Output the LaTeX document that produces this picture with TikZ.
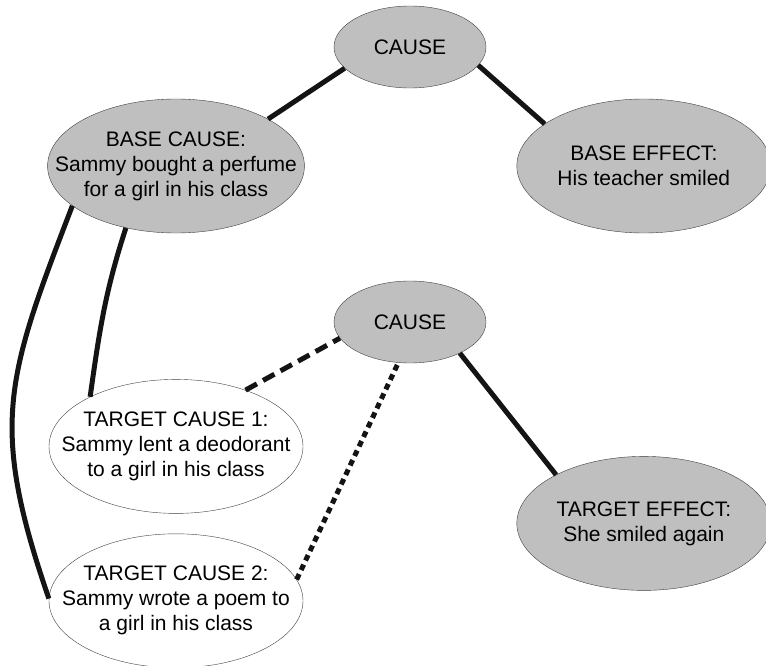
\documentclass[tikz,border=0pt]{standalone}
\usepackage{fontspec}
\setmainfont{Liberation Sans}
\usepackage{xcolor}
\definecolor{cFill}{HTML}{BFBFBF}
\definecolor{cEdge}{HTML}{404040}
\definecolor{cLink}{HTML}{141414}
\usepackage{tikz}
\usetikzlibrary{positioning,shapes.geometric}
\tikzset{
  node-event/.style={draw=cEdge,ellipse,fill=cFill,inner xsep=-30pt,
    minimum width=254pt,minimum height=134pt,align=center,
    font=\fontsize{21}{25}\selectfont},
  node-cause/.style={draw=cEdge,ellipse,fill=cFill,inner sep=0pt,
    minimum width=152pt,minimum height=82pt,
    font=\fontsize{21}{25}\selectfont},
  node-target/.style={fill=white},
  link/.style={line width=5pt,draw=cLink},
  link-dashed/.style={link,dash pattern=on 13pt off 7pt},
  link-dotted/.style={link,dash pattern=on 6pt off 4.5pt},
}
\begin{document}
\begin{tikzpicture}[x=1pt,y=1pt,node distance=146pt and 212pt]
  \useasboundingbox (0,0) rectangle (766,-666);
  \node[node-event] (basecause) at (176,-166)
    {BASE CAUSE:\\Sammy bought a perfume\\for a girl in his class};
  \node[node-event,right=of basecause] (baseeffect)
    {BASE EFFECT:\\His teacher smiled};
  \node[node-event,node-target,below=of basecause] (targetcause1)
    {TARGET CAUSE 1:\\Sammy lent a deodorant\\to a girl in his class};
  \node[node-event,node-target,below=20pt of targetcause1] (targetcause2)
    {TARGET CAUSE 2:\\Sammy wrote a poem to\\a girl in his class};
  \node[node-event,below=223pt of baseeffect] (targeteffect)
    {TARGET EFFECT:\\She smiled again};
  \node[node-cause] (cause)  at (410,-47)  {CAUSE};
  \node[node-cause] (cause2) at (410,-322) {CAUSE};
  \draw[link] (basecause.27) -- (cause.198);
  \draw[link] (cause.-15) -- (baseeffect.157);
  \draw[link] (cause2.-32) -- (targeteffect.151);
  \draw[link-dashed] (targetcause1.39) -- (cause2.193);
  \draw[link-dotted] (targetcause2.10) -- (cause2.254);
  \draw[link] (basecause.231) to[out=252,in=82] (targetcause1.150);
  \draw[link] (basecause.201) to[out=249,in=109,looseness=1.2] (targetcause2.179);
\end{tikzpicture}
\end{document}
